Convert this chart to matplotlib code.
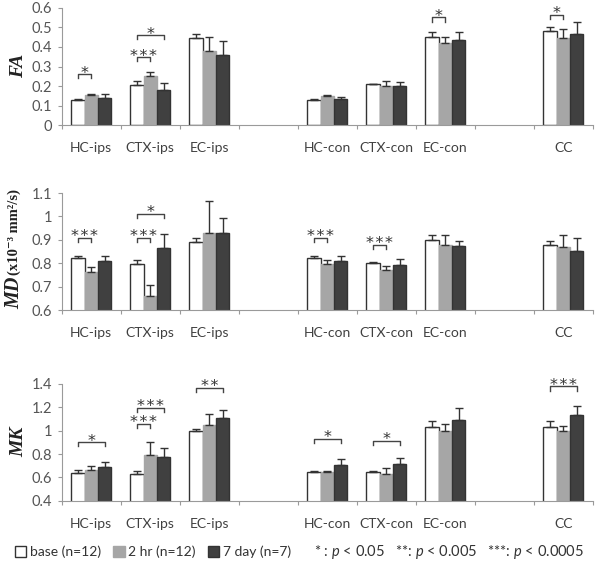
import numpy as np
import matplotlib
matplotlib.use('Agg')
import matplotlib.pyplot as plt
from matplotlib.ticker import FuncFormatter, FixedLocator
from matplotlib.patches import Patch

nan = np.nan
cats = ['HC-ips', 'CTX-ips', 'EC-ips', '', 'HC-con', 'CTX-con', 'EC-con', '', 'CC']
groups = ['base (n=12)', '2 hr (n=12)', '7 day (n=7)']

# FA
fa_base = [0.13, 0.207, 0.446, nan, 0.13, 0.208, 0.452, nan, 0.483]
fa_2hr = [0.153, 0.253, 0.38, nan, 0.147, 0.198, 0.42, nan, 0.446]
fa_7day = [0.139, 0.18, 0.358, nan, 0.134, 0.2, 0.435, nan, 0.464]
fa_base_err = [0.005, 0.02, 0.02, nan, 0.004, 0.003, 0.025, nan, 0.02]
fa_2hr_err = [0.005, 0.02, 0.07, nan, 0.005, 0.03, 0.03, nan, 0.045]
fa_7day_err = [0.02, 0.035, 0.075, nan, 0.008, 0.02, 0.04, nan, 0.066]

# MD
md_base = [0.821, 0.797, 0.893, nan, 0.824, 0.803, 0.899, nan, 0.877]
md_2hr = [0.761, 0.66, 0.931, nan, 0.797, 0.773, 0.879, nan, 0.869]
md_7day = [0.809, 0.864, 0.931, nan, 0.81, 0.793, 0.874, nan, 0.853]
md_base_err = [0.012, 0.016, 0.014, nan, 0.009, 0.004, 0.022, nan, 0.019]
md_2hr_err = [0.023, 0.047, 0.133, nan, 0.019, 0.016, 0.043, nan, 0.053]
md_7day_err = [0.021, 0.06, 0.062, nan, 0.021, 0.026, 0.023, nan, 0.054]

# MK
mk_base = [0.637, 0.629, 1.0, nan, 0.651, 0.649, 1.029, nan, 1.031]
mk_2hr = [0.663, 0.794, 1.051, nan, 0.651, 0.626, 0.997, nan, 1.0]
mk_7day = [0.689, 0.777, 1.106, nan, 0.706, 0.714, 1.091, nan, 1.129]
mk_base_err = [0.027, 0.025, 0.014, nan, 0.006, 0.005, 0.051, nan, 0.052]
mk_2hr_err = [0.037, 0.109, 0.092, nan, 0.006, 0.051, 0.06, nan, 0.037]
mk_7day_err = [0.04, 0.072, 0.066, nan, 0.051, 0.055, 0.1, nan, 0.085]

# significance brackets: (category, bar a, bar b, height, label)
fa_sig = [(0, 0, 1, 0.26, '*'), (1, 0, 1, 0.347, '***'), (1, 0, 2, 0.46, '*'),
          (6, 0, 1, 0.551, '*'), (8, 0, 1, 0.564, '*')]
md_sig = [(0, 0, 1, 0.91, '***'), (1, 0, 1, 0.91, '***'), (1, 0, 2, 1.01, '*'),
          (4, 0, 1, 0.907, '***'), (5, 0, 1, 0.879, '***')]
mk_sig = [(0, 0, 2, 0.9, '*'), (1, 0, 1, 1.057, '***'), (1, 0, 2, 1.194, '***'),
          (2, 0, 2, 1.366, '**'), (4, 0, 2, 0.929, '*'), (5, 0, 2, 0.914, '*'),
          (8, 0, 2, 1.377, '***')]

plt.rcParams['font.family'] = ['Lato', 'DejaVu Sans']
plt.rcParams['mathtext.fontset'] = 'custom'
plt.rcParams['mathtext.it'] = 'Lato:italic'
plt.rcParams['mathtext.rm'] = 'Lato'

face = ['white', '#a6a6a6', '#404040']
edge = ['#333333', '#a6a6a6', '#333333']
txt_col = '#404040'
spine_col = '#9a9a9a'

fig = plt.figure(figsize=(6, 5.66), dpi=100)

panels = [
    (0.779, (0, 0.6), np.arange(0, 0.61, 0.1), [fa_base, fa_2hr, fa_7day],
     [fa_base_err, fa_2hr_err, fa_7day_err], fa_sig),
    (0.452, (0.6, 1.1), np.arange(0.6, 1.11, 0.1), [md_base, md_2hr, md_7day],
     [md_base_err, md_2hr_err, md_7day_err], md_sig),
    (0.115, (0.4, 1.4), np.arange(0.4, 1.41, 0.2), [mk_base, mk_2hr, mk_7day],
     [mk_base_err, mk_2hr_err, mk_7day_err], mk_sig),
]

x = np.arange(len(cats))
w = 0.225
handles = []
for bottom, ylim, yticks, vals, errs, sig in panels:
    ax = fig.add_axes([0.103, bottom, 0.885, 0.207])
    for k in range(3):
        pos = x + (k - 1) * w
        v = np.array(vals[k])
        e = np.array(errs[k])
        ax.bar(pos, v, width=w, color=face[k], edgecolor=edge[k], linewidth=1.0, zorder=2)
        ax.errorbar(pos, v, yerr=[np.zeros_like(e), e], fmt='none', ecolor='#333333',
                    elinewidth=1.0, capsize=3, capthick=1.0, zorder=3)
        if len(handles) < 3:
            handles.append(Patch(facecolor=face[k], edgecolor=edge[k], linewidth=1.0))
    rng = ylim[1] - ylim[0]
    leg = 0.035 * rng
    for c, a, bb, h, lab in sig:
        xa = c + (a - 1) * w
        xb = c + (bb - 1) * w
        ax.plot([xa, xa, xb, xb], [h - leg, h, h, h - leg], color='#444444', lw=1.0,
                clip_on=False, zorder=4)
        ax.annotate('\u200a'.join(lab), ((xa + xb) / 2, h), xytext=(0, -4.5),
                    textcoords='offset points', ha='center', va='bottom', fontsize=11.5,
                    color='#333333', family='DejaVu Sans', annotation_clip=False)
    ax.set_xlim(-0.5, len(cats) - 0.5)
    ax.set_ylim(*ylim)
    ax.set_yticks(yticks)
    ax.yaxis.set_major_formatter(FuncFormatter(lambda v, p: f'{round(v, 2):g}'))
    ax.xaxis.set_major_locator(FixedLocator(np.arange(-0.5, len(cats), 1.0)))
    ax.xaxis.set_minor_locator(FixedLocator(x))
    ax.set_xticklabels([])
    ax.set_xticklabels(cats, minor=True)
    ax.tick_params(axis='x', which='major', length=3, width=0.8, color=spine_col, direction='out')
    ax.tick_params(axis='x', which='minor', length=0, pad=12, labelsize=10, labelcolor=txt_col)
    ax.tick_params(axis='y', length=3, width=0.8, color=spine_col, pad=4, labelsize=10.5,
                   labelcolor='#555555')
    for s in ['top', 'right']:
        ax.spines[s].set_visible(False)
    for s in ['left', 'bottom']:
        ax.spines[s].set_color(spine_col)
        ax.spines[s].set_linewidth(0.8)

serif = ['Liberation Serif', 'DejaVu Serif']
fig.text(0.031, 1 - 66 / 566, 'FA', rotation=90, ha='center', va='center', fontsize=14,
         fontweight='bold', fontstyle='italic', family=serif, color='#222222')
fig.text(0.031, 1 - 442 / 566, 'MK', rotation=90, ha='center', va='center', fontsize=14,
         fontweight='bold', fontstyle='italic', family=serif, color='#222222')
fig.text(0.024, 1 - 309 / 566, 'MD', rotation=90, ha='center', va='bottom', fontsize=14.5,
         fontweight='bold', fontstyle='italic', family=serif, color='#222222')
fig.text(0.024, 1 - 275 / 566, '(x10⁻³ mm²/s)', rotation=90, ha='center', va='bottom',
         fontsize=10.5, fontweight='bold', family=serif, color='#222222')

fig.legend(handles, groups, loc='center', bbox_to_anchor=(0.255, 0.025), ncol=3,
           frameon=False, handlelength=0.8, handleheight=0.8, handletextpad=0.25,
           columnspacing=0.9, fontsize=10, labelcolor='#333333', borderpad=0, borderaxespad=0)
fig.text(0.748, 0.025, r'* : $p$ < 0.05   **: $p$ < 0.005   ***: $p$ < 0.0005',
         ha='center', va='center', fontsize=10.5, color='#333333')

fig.savefig('out.png', dpi=100)
